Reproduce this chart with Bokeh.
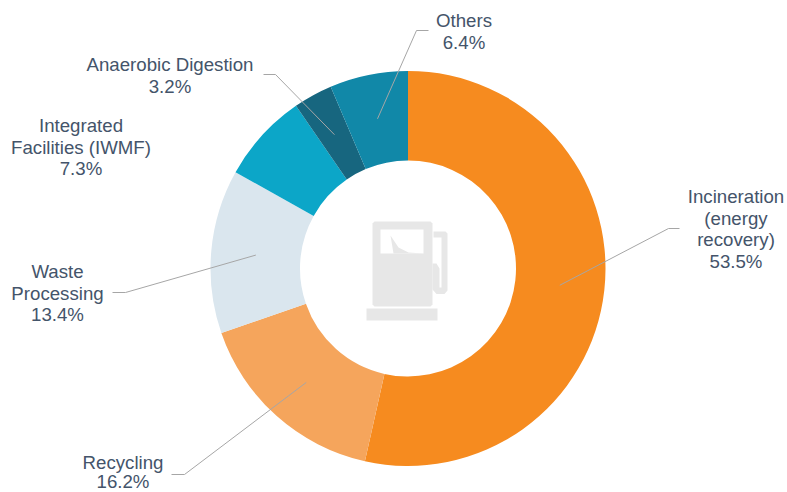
import math
from bokeh.plotting import figure
from bokeh.embed import file_html
from bokeh.resources import INLINE
from bokeh.core.properties import value

categories = ["Incineration (energy recovery)", "Recycling", "Waste Processing",
              "Integrated Facilities (IWMF)", "Anaerobic Digestion", "Others"]
shares = [53.5, 16.2, 13.4, 7.3, 3.2, 6.4]
share_labels = ["53.5%", "16.2%", "13.4%", "7.3%", "3.2%", "6.4%"]
colors = ["#F68B1F", "#F5A55C", "#DAE6EE", "#0CA6C8", "#17667F", "#1188A8"]

W, H = 787, 492
def X(px): return px
def Y(py): return H - py

CX, CY, R_OUT, R_IN = 407.5, 268, 197.5, 108

p = figure(width=W, height=H, x_range=(0, W), y_range=(0, H), output_backend="svg",
           toolbar_location=None, min_border=0, outline_line_color=None)
p.axis.visible = False
p.grid.visible = False
p.background_fill_color = "white"

total = sum(shares)
starts, ends, mids, cum = [], [], [], 0.0
for v in shares:
    starts.append(math.pi / 2 - cum / total * 2 * math.pi)
    mids.append((cum + v / 2) / total * 2 * math.pi)
    cum += v
    ends.append(math.pi / 2 - cum / total * 2 * math.pi)

p.annular_wedge(x=[X(CX)] * 6, y=[Y(CY)] * 6, inner_radius=R_IN, outer_radius=R_OUT,
                start_angle=starts, end_angle=ends, direction="clock",
                fill_color=colors, line_color=None)

# leader lines: from mid-ring of the slice to an elbow, then a short stub
elbows = {0: ((668, 228), (679, 228)), 1: ((184, 474), (171, 474)), 2: ((125, 292), (112, 292)),
          4: ((275, 74), (263, 74)), 5: ((416, 30), (428, 30))}
R_MID = (R_OUT + R_IN) / 2
for i, (e1, e2) in elbows.items():
    sx = CX + R_MID * math.sin(mids[i])
    sy = CY - R_MID * math.cos(mids[i])
    p.line([X(sx), X(e1[0]), X(e2[0])], [Y(sy), Y(e1[1]), Y(e2[1])],
           line_color="#A6A6A6", line_width=1)

# labels
lines = [
    (["Incineration", "(energy", "recovery)", share_labels[0]], 735.5, [196.3, 217.5, 239.3, 260.5]),
    (["Recycling", share_labels[1]], 122.5, [462, 480.5]),
    (["Waste", "Processing", share_labels[2]], 57, [271.3, 293.3, 314.3]),
    (["Integrated", "Facilities (IWMF)", share_labels[3]], 80.5, [125.3, 146.5, 168.3]),
    (["Anaerobic Digestion", share_labels[4]], 169.5, [64.3, 85.5]),
    (["Others", share_labels[5]], 463.5, [20.3, 41.5]),
]
for txts, x, ys in lines:
    p.text(x=[X(x)] * len(txts), y=[Y(y) for y in ys], text=txts,
           text_font=value("Liberation Sans"), text_font_size="18.67px",
           text_color="#44546A", text_align="center", text_baseline="middle")

# fuel pump icon
ICON = "#E7E7E7"
def shape(pts, color=ICON):
    p.patch([X(a) for a, _ in pts], [Y(b) for _, b in pts], fill_color=color, line_color=None)

shape([(374, 221), (430, 221), (432, 223), (432, 304), (430, 306), (374, 306), (372, 304), (372, 223)])
shape([(380, 229), (423, 229), (423, 253), (380, 253)], "white")
shape([(390, 235), (398, 247), (408, 252), (423, 253), (393, 253)])
shape([(366, 308), (437, 308), (437, 320), (366, 320)])
shape([(433, 231), (445, 231), (447, 233), (447, 290), (444, 293.5), (436, 293.5), (432, 289),
       (432, 263), (436, 263), (439, 268), (439, 287), (441, 287), (441, 237), (433, 237)])

open("out.html", "w").write(file_html(p, INLINE))
